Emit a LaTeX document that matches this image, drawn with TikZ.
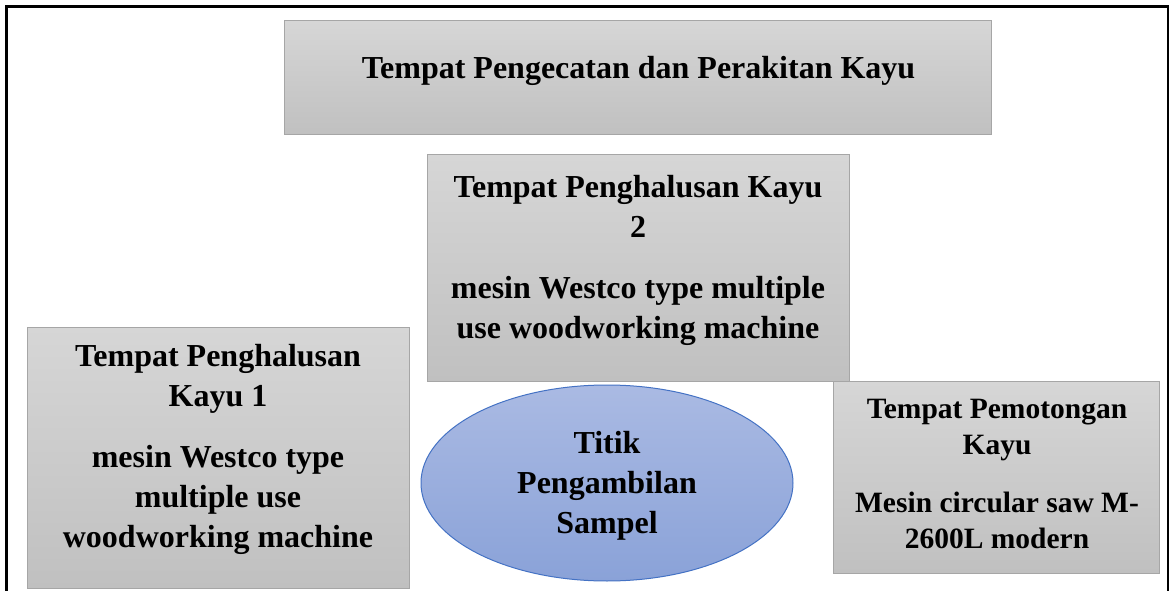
\documentclass[tikz,border=0pt]{standalone}
\usepackage{fontspec}
\setmainfont{Liberation Serif}
\usetikzlibrary{shapes.geometric}
\definecolor{boxtop}{HTML}{D6D6D6}
\definecolor{boxbot}{HTML}{C0C0C0}
\definecolor{boxedge}{HTML}{A6A6A6}
\definecolor{elltop}{HTML}{AABAE3}
\definecolor{ellbot}{HTML}{8AA2D8}
\definecolor{elledge}{HTML}{4472C4}
\begin{document}
\begin{tikzpicture}[x=1pt,y=-1pt,
  panel/.style 2 args={draw=boxedge,line width=1pt,top color=boxtop,bottom color=boxbot,
    rectangle,inner sep=0pt,minimum width=#1,minimum height=#2},
  spot/.style 2 args={draw=elledge,line width=1pt,top color=elltop,bottom color=ellbot,
    ellipse,inner sep=0pt,minimum width=#1,minimum height=#2},
  bigtext/.style={align=center,inner sep=0pt,font=\fontsize{32}{40}\selectfont\bfseries},
  smalltext/.style={align=center,inner sep=0pt,font=\fontsize{29.5}{36}\selectfont\bfseries}]
  \useasboundingbox (0,0) rectangle (1171,591);
  % page frame, open at the bottom
  \draw[line width=2.5pt] (6.5,591) -- (6.5,6.5) -- (1168,6.5) -- (1168,591);

  % areas of the workshop
  \node[panel={707pt}{114pt}] (paint) at (637.5,78) {};
  \node[panel={422pt}{226pt}] (sand2) at (638,268) {};
  \node[panel={382pt}{261pt}] (sand1) at (218,457.5) {};
  \node[panel={326pt}{192pt}] (cut) at (996,477) {};
  \node[spot={372pt}{196pt}] (sample) at (607,483) {};

  % labels
  \node[bigtext] (paintlbl) at (638.5,70.5) {Tempat Pengecatan dan Perakitan Kayu};
  \node[bigtext] (sand2lbl) at (638,260) {Tempat Penghalusan Kayu\\2\\[21pt]mesin Westco type multiple\\use woodworking machine};
  \node[bigtext] (sand1lbl) at (218,449.5) {Tempat Penghalusan\\Kayu 1\\[21pt]mesin Westco type\\multiple use\\woodworking machine};
  \node[smalltext] (cutlbl) at (997,474) {Tempat Pemotongan\\Kayu\\[22pt]Mesin circular saw M-\\2600L modern};
  \node[bigtext] (samplelbl) at (607,485.5) {Titik\\Pengambilan\\Sampel};
\end{tikzpicture}
\end{document}
